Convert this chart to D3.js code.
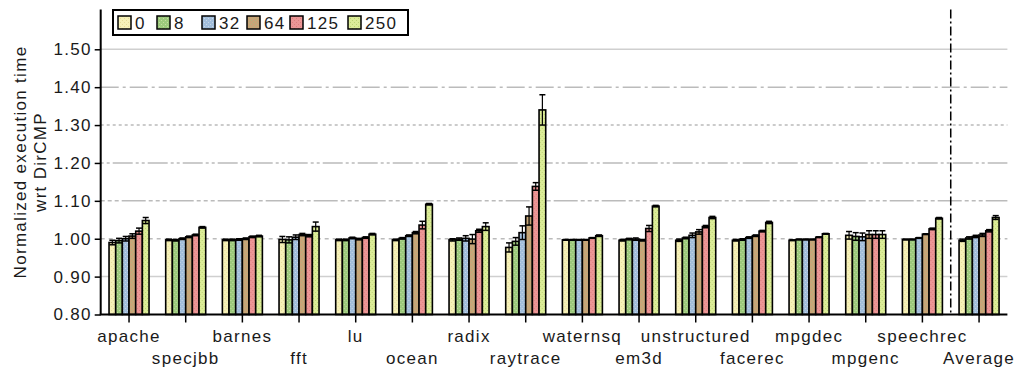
<!DOCTYPE html>
<html>
<head>
<meta charset="utf-8">
<script src="https://cdn.jsdelivr.net/npm/d3@7"></script>
<style>
  body { margin: 0; background: #fff; }
  text { font-family: "Liberation Sans", Arial, sans-serif; fill: #1a1a1a; }
</style>
</head>
<body>
<div id="chart"></div>
<script>
const width = 1020;
const height = 369;

const categories = ["apache", "specjbb", "barnes", "fft", "lu", "ocean", "radix", "raytrace",
  "waternsq", "em3d", "unstructured", "facerec", "mpgdec", "mpgenc", "speechrec", "Average"];
const seriesNames = ["0", "8", "32", "64", "125", "250"];

const s0   = [0.990, 0.997, 0.997, 0.998, 0.997, 0.997, 0.997, 0.977, 0.997, 0.996, 0.996, 0.996, 0.996, 1.009, 0.998, 0.996];
const s8   = [0.995, 0.996, 0.997, 0.997, 0.997, 1.001, 0.999, 0.993, 0.997, 0.999, 1.002, 0.998, 0.998, 1.006, 0.998, 1.002];
const s32  = [1.000, 1.000, 0.998, 1.004, 1.002, 1.008, 1.001, 1.016, 0.997, 0.999, 1.009, 1.003, 0.998, 1.005, 1.002, 1.006];
const s64  = [1.007, 1.005, 1.000, 1.011, 0.999, 1.016, 0.999, 1.060, 0.997, 0.996, 1.018, 1.008, 0.998, 1.011, 1.012, 1.010];
const s125 = [1.020, 1.010, 1.005, 1.008, 1.003, 1.036, 1.021, 1.138, 1.002, 1.027, 1.032, 1.020, 1.004, 1.011, 1.026, 1.021];
const s250 = [1.048, 1.030, 1.007, 1.032, 1.012, 1.091, 1.032, 1.340, 1.008, 1.086, 1.056, 1.043, 1.013, 1.011, 1.054, 1.056];

const e0   = [0.006, 0.002, 0.002, 0.008, 0.002, 0.002, 0.003, 0.012, 0.001, 0.002, 0.003, 0.002, 0.001, 0.010, 0.001, 0.003];
const e8   = [0.006, 0.002, 0.002, 0.008, 0.002, 0.002, 0.003, 0.010, 0.001, 0.002, 0.002, 0.002, 0.001, 0.010, 0.001, 0.003];
const e32  = [0.006, 0.002, 0.002, 0.006, 0.002, 0.002, 0.007, 0.018, 0.001, 0.003, 0.006, 0.002, 0.001, 0.010, 0.001, 0.003];
const e64  = [0.006, 0.002, 0.002, 0.003, 0.002, 0.003, 0.012, 0.024, 0.001, 0.002, 0.006, 0.002, 0.001, 0.010, 0.001, 0.004];
const e125 = [0.008, 0.002, 0.002, 0.003, 0.002, 0.010, 0.004, 0.010, 0.001, 0.008, 0.003, 0.002, 0.001, 0.010, 0.002, 0.003];
const e250 = [0.008, 0.002, 0.002, 0.012, 0.002, 0.002, 0.010, 0.040, 0.002, 0.002, 0.003, 0.003, 0.001, 0.010, 0.002, 0.005];

const yTicks = [0.8, 0.9, 1.0, 1.1, 1.2, 1.3, 1.4, 1.5];

const values = [s0, s8, s32, s64, s125, s250];
const errors = [e0, e8, e32, e64, e125, e250];

// fill colour + dither dot colour per series
const fills = [["#f6f1b8", "#e6dc98"], ["#9cc97c", "#c4dea0"], ["#a2bedb", "#c9d6e6"],
  ["#c9a477", "#b0b47e"], ["#ec9696", "#dc7e7e"], ["#dcec98", "#bcd474"]];

const x0 = 100.7, x1 = 1007.4, yBase = 314.5, yTop = 11.4;

const svg = d3.select("#chart").append("svg")
  .attr("width", width).attr("height", height);

const defs = svg.append("defs");
fills.forEach((f, i) => {
  const p = defs.append("pattern").attr("id", "pat" + i)
    .attr("width", 4).attr("height", 4).attr("patternUnits", "userSpaceOnUse");
  p.append("rect").attr("width", 4).attr("height", 4).attr("fill", f[0]);
  p.append("rect").attr("x", 0).attr("y", 0).attr("width", 1).attr("height", 1).attr("fill", f[1]);
  p.append("rect").attr("x", 2).attr("y", 2).attr("width", 1).attr("height", 1).attr("fill", f[1]);
});

const x = d3.scaleBand().domain(categories).range([x0, x1]).paddingInner(0.294).paddingOuter(0.147);
const xs = d3.scaleBand().domain(seriesNames).range([0, x.bandwidth()]);
const y = d3.scaleLinear().domain([0.8, 1.6]).range([yBase, yTop]);

// gridlines
const gridStyle = {
  "0.9": ["#cfcfcf", null], "1": ["#bbb", "4,4"], "1.1": ["#bbb", "4,3,4,3,4,3,24,3"],
  "1.2": ["#bbb", "3,3,3,3,20,3"], "1.3": ["#bbb", "3,3"], "1.4": ["#bbb", "18,4,3,4"], "1.5": ["#cfcfcf", null]
};
svg.append("g").selectAll("line").data(yTicks.slice(1)).join("line")
  .attr("x1", x0).attr("x2", x1)
  .attr("y1", d => y(d)).attr("y2", d => y(d))
  .attr("stroke", d => gridStyle[String(+d.toFixed(1))][0])
  .attr("stroke-width", 1.5)
  .attr("stroke-dasharray", d => gridStyle[String(+d.toFixed(1))][1]);

// bars
const groups = svg.append("g").selectAll("g").data(categories).join("g")
  .attr("transform", d => `translate(${x(d)},0)`);

groups.selectAll("rect").data((c, ci) => seriesNames.map((s, si) => ({ s, si, v: values[si][ci], e: errors[si][ci] })))
  .join("rect")
  .attr("x", d => xs(d.s))
  .attr("width", xs.bandwidth())
  .attr("y", d => y(d.v))
  .attr("height", d => yBase - y(d.v))
  .attr("fill", d => `url(#pat${d.si})`)
  .attr("stroke", "#000")
  .attr("stroke-width", 1.6);

// error bars
const eb = groups.selectAll("g.err").data((c, ci) => seriesNames.map((s, si) => ({ s, si, v: values[si][ci], e: errors[si][ci] })))
  .join("g").attr("class", "err")
  .attr("transform", d => `translate(${xs(d.s) + xs.bandwidth() / 2},0)`);
eb.append("line").attr("y1", d => y(d.v - d.e)).attr("y2", d => y(d.v + d.e))
  .attr("stroke", "#000").attr("stroke-width", 1.2);
eb.append("line").attr("x1", -3).attr("x2", 3).attr("y1", d => y(d.v + d.e)).attr("y2", d => y(d.v + d.e))
  .attr("stroke", "#000").attr("stroke-width", 1.5);
eb.append("line").attr("x1", -3).attr("x2", 3).attr("y1", d => y(d.v - d.e)).attr("y2", d => y(d.v - d.e))
  .attr("stroke", "#000").attr("stroke-width", 1.5);

// separator before Average
const sepX = (x("speechrec") + x.bandwidth() + x("Average")) / 2;
svg.append("line").attr("x1", sepX).attr("x2", sepX).attr("y1", yTop - 2).attr("y2", yBase)
  .attr("stroke", "#000").attr("stroke-width", 1.5).attr("stroke-dasharray", "9,3,2,3");

// x axis
svg.append("line").attr("x1", x0 - 1).attr("x2", x1).attr("y1", yBase).attr("y2", yBase)
  .attr("stroke", "#000").attr("stroke-width", 2);
const xt = svg.append("g").selectAll("g").data(categories).join("g")
  .attr("transform", d => `translate(${x(d) + x.bandwidth() / 2},${yBase})`);
xt.append("line").attr("y1", 0).attr("y2", 8).attr("stroke", "#000").attr("stroke-width", 1.5);
xt.append("text")
  .attr("text-anchor", "middle")
  .attr("y", (d, i) => i % 2 === 0 ? 27 : 49.5)
  .style("font-size", "17px").style("letter-spacing", "1.3px")
  .text(d => d);

// y axis
const yAxis = svg.append("g").attr("transform", `translate(${x0},0)`)
  .call(d3.axisLeft(y).tickValues(yTicks).tickFormat(d3.format(".2f")).tickSize(6).tickPadding(3));
yAxis.select(".domain").attr("d", `M0,${yTop - 2}V${yBase}`).attr("stroke", "#000").attr("stroke-width", 2);
yAxis.selectAll(".tick line").attr("stroke", "#000").attr("stroke-width", 1.5);
yAxis.selectAll(".tick text")
  .style("font-size", "17px").style("letter-spacing", "1.3px").style("font-family", "Liberation Sans, Arial, sans-serif")
  .attr("fill", "#1a1a1a");

// y label
const yl = svg.append("text")
  .attr("transform", "translate(26,162) rotate(-90)")
  .attr("text-anchor", "middle")
  .style("font-size", "17px").style("letter-spacing", "1.3px");
yl.append("tspan").attr("x", 0).attr("dy", 0).text("Normalized execution time");
yl.append("tspan").attr("x", 0).attr("dy", 20).text("wrt DirCMP");

// legend
const leg = svg.append("g").attr("transform", "translate(113,10)");
leg.append("rect").attr("width", 295).attr("height", 25)
  .attr("fill", "#fff").attr("stroke", "#000").attr("stroke-width", 2);
const legX = [5, 44, 89, 134, 177, 235];
const li = leg.selectAll("g").data(seriesNames).join("g")
  .attr("transform", (d, i) => `translate(${legX[i]},6)`);
li.append("rect").attr("width", 13).attr("height", 13)
  .attr("fill", (d, i) => `url(#pat${i})`).attr("stroke", "#000").attr("stroke-width", 1.5);
li.append("text").attr("x", 17).attr("y", 12.5)
  .style("font-size", "17px").style("letter-spacing", "1.3px")
  .text(d => d);
</script>
</body>
</html>
